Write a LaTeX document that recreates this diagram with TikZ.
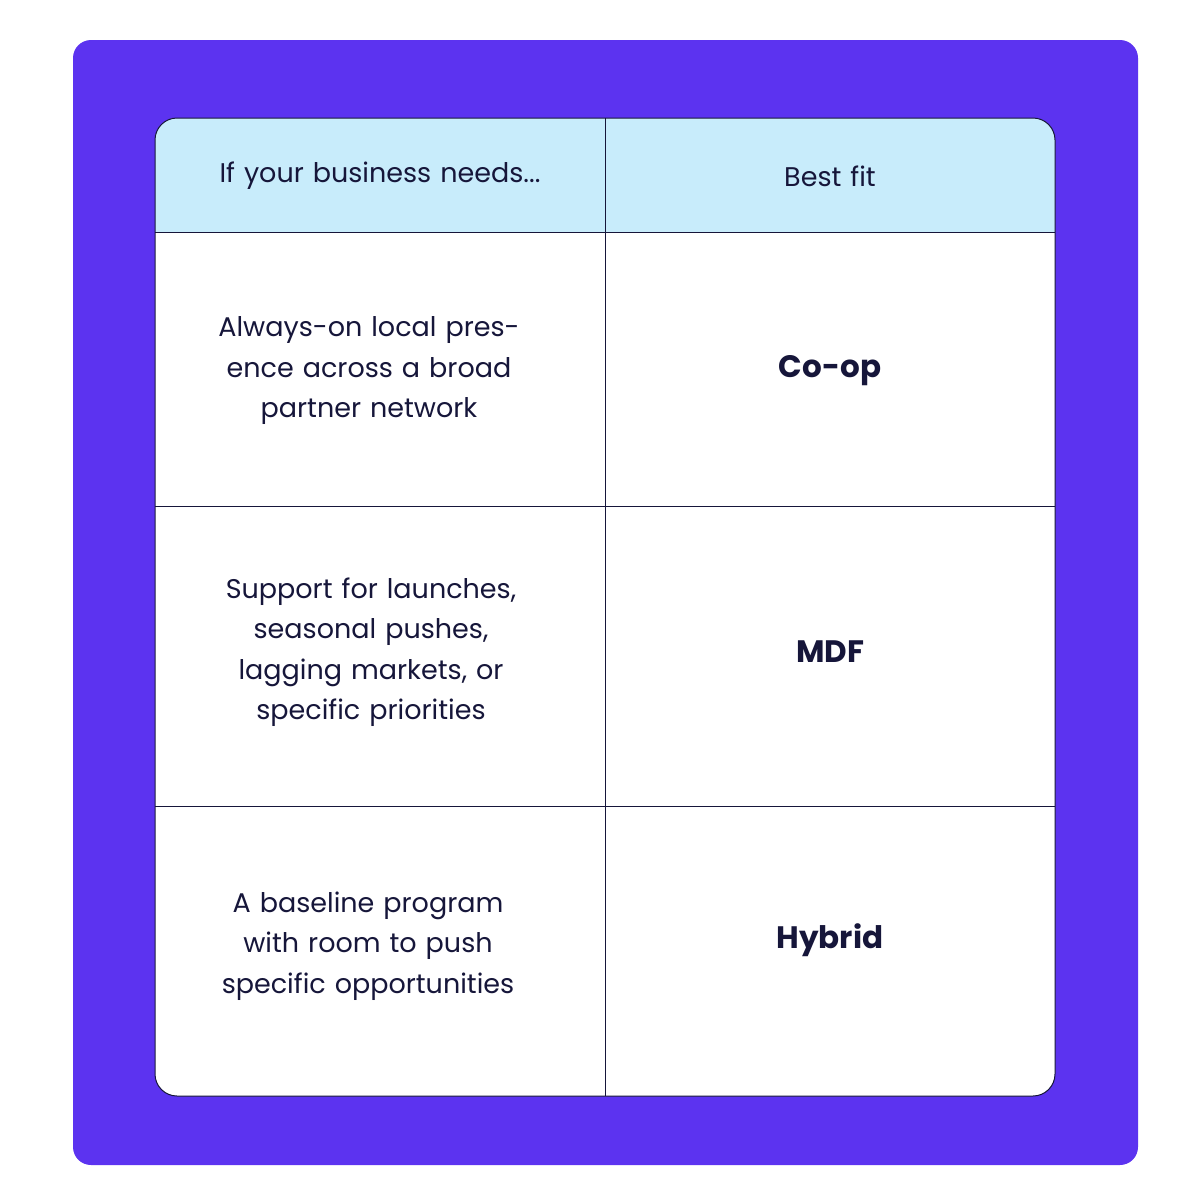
\documentclass[tikz,border=0pt]{standalone}
\usepackage{fontspec}
\setmainfont{Poppins}
\usepackage{xcolor}
\definecolor{panel}{HTML}{5C33F0}
\definecolor{headfill}{HTML}{C8ECFB}
\definecolor{ink}{HTML}{16163A}
\tikzset{
  cell/.style={text width=360pt, align=center, text=ink,
    font=\fontsize{27}{40.5}\selectfont},
  fit/.style={text=ink, font=\fontsize{31}{38}\selectfont\bfseries},
  grid/.style={draw=ink, line width=1pt}
}
\begin{document}
\begin{tikzpicture}[x=1pt,y=-1pt]
  \useasboundingbox (0,0) rectangle (1200,1200);
  \fill[panel, rounded corners=18pt] (73,40) rectangle (1138,1165);
  % table body
  \fill[white, rounded corners=22pt] (155,118) rectangle (1055,1096);
  \begin{scope}
    \clip[rounded corners=22pt] (155,118) rectangle (1055,1096);
    \fill[headfill] (155,118) rectangle (1055,232);
  \end{scope}
  \draw[grid, rounded corners=22pt] (155,118) rectangle (1055,1096);
  \draw[grid] (605,118) -- (605,1096);
  \draw[grid] (155,232) -- (1055,232);
  \draw[grid] (155,506) -- (1055,506);
  \draw[grid] (155,806) -- (1055,806);
  % header
  \node[cell] (needs) at (380,176) {If your business needs...};
  \node[cell] (best) at (830,176) {Best fit};
  % rows
  \node[cell] (rowa) at (369,371) {Always-on local presence across a broad partner network};
  \node[fit] (coop) at (830,371) {Co-op};
  \node[cell] (rowb) at (371,652) {Support for launches, seasonal pushes, lagging markets, or specific priorities};
  \node[fit] (mdf) at (830,652) {MDF};
  \node[cell] (rowc) at (368,946) {A baseline program with room to push specific opportunities};
  \node[fit] (hybrid) at (830,940) {Hybrid};
\end{tikzpicture}
\end{document}
